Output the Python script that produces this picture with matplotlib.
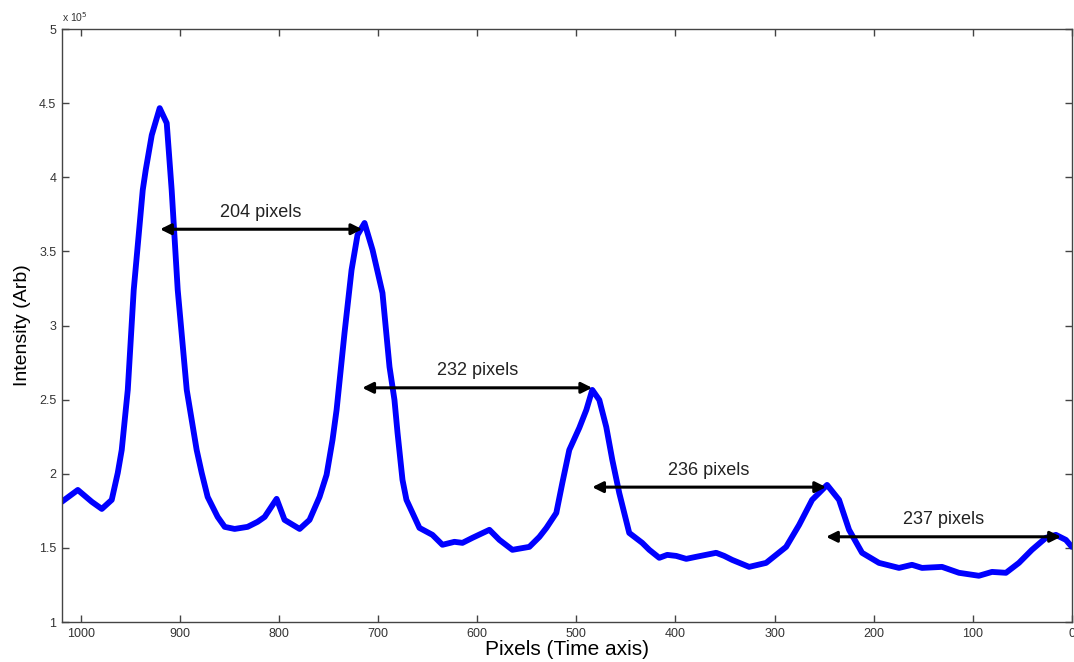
import matplotlib
matplotlib.use('Agg')
import matplotlib.pyplot as plt
from matplotlib.ticker import FuncFormatter, MultipleLocator

plt.rcParams['font.family'] = ['Liberation Sans', 'DejaVu Sans']

# Intensity trace along the time axis (pixel index, intensity in units of 1e5)
pixel = [1019.2, 1003.0, 988.9, 978.8, 968.8, 962.7, 958.7, 952.6, 946.6, 937.5,
         934.5, 928.4, 920.4, 913.3, 908.3, 902.2, 893.1, 883.1, 878.0, 872.0,
         861.9, 854.8, 844.8, 831.7, 821.6, 814.5, 802.4, 794.4, 779.2, 769.2,
         759.1, 752.0, 746.0, 741.9, 733.9, 726.8, 720.8, 713.7, 705.6, 695.6,
         688.5, 683.5, 680.4, 675.4, 671.4, 658.3, 645.2, 635.1, 623.0, 614.9,
         604.8, 587.7, 577.6, 564.5, 547.4, 537.3, 530.2, 520.2, 514.1, 507.1,
         497.0, 489.9, 483.9, 476.8, 469.8, 463.7, 456.7, 446.6, 433.5, 426.4,
         416.3, 408.3, 399.2, 389.1, 379.0, 358.9, 350.8, 342.7, 325.6, 308.5,
         288.3, 275.2, 262.1, 255.0, 247.0, 234.9, 224.8, 211.7, 194.6, 174.4,
         161.3, 151.2, 131.0, 113.9, 93.8, 80.6, 66.5, 53.4, 40.3, 26.2,
         16.1, 6.0, 0.0]
intensity = [1.811, 1.891, 1.811, 1.763, 1.824, 2.006, 2.161, 2.566, 3.240, 3.914,
             4.049, 4.285, 4.467, 4.366, 3.914, 3.240, 2.566, 2.161, 2.006, 1.844,
             1.709, 1.642, 1.628, 1.642, 1.676, 1.709, 1.831, 1.689, 1.628, 1.689,
             1.844, 1.993, 2.229, 2.431, 2.950, 3.375, 3.611, 3.692, 3.510, 3.220,
             2.721, 2.498, 2.276, 1.959, 1.824, 1.635, 1.588, 1.521, 1.541, 1.534,
             1.568, 1.622, 1.554, 1.487, 1.507, 1.574, 1.635, 1.736, 1.939, 2.161,
             2.310, 2.431, 2.566, 2.498, 2.316, 2.094, 1.871, 1.601, 1.534, 1.487,
             1.433, 1.453, 1.446, 1.426, 1.440, 1.467, 1.446, 1.419, 1.372, 1.399,
             1.507, 1.655, 1.824, 1.871, 1.925, 1.824, 1.622, 1.467, 1.399, 1.365,
             1.386, 1.365, 1.372, 1.332, 1.312, 1.338, 1.332, 1.399, 1.487, 1.568,
             1.588, 1.554, 1.507]

# peak positions and the height at which each spacing arrow is drawn
peak_pos = [920, 716, 484, 248, 11]
arrow_y = [3.65, 2.58, 1.91, 1.575]

fig = plt.figure(figsize=(10.74, 6.62), dpi=100)
ax = fig.add_axes([0.0577, 0.0604, 0.9403, 0.8956])

ax.plot(pixel, intensity, color='#0000ff', lw=4.2,
        solid_joinstyle='round', solid_capstyle='round')

for i, y in enumerate(arrow_y):
    left, right = peak_pos[i], peak_pos[i + 1]
    ax.annotate('', xy=(right, y), xytext=(left, y),
                arrowprops=dict(arrowstyle='<|-|>', color='black', lw=2.2,
                                mutation_scale=16, shrinkA=0, shrinkB=0))
    ax.text((left + right) / 2, y + 0.115, f'{left - right} pixels',
            ha='center', va='center', fontsize=13, color='#222222')

ax.set_xlim(1019, 0)
ax.set_ylim(1, 5)
ax.xaxis.set_major_locator(MultipleLocator(100))
ax.yaxis.set_major_locator(MultipleLocator(0.5))
ax.yaxis.set_major_formatter(FuncFormatter(lambda v, p: f'{v:g}'))

ax.tick_params(direction='in', length=5, width=1, top=True, right=True,
               labelsize=9, labelcolor='#333333', color='#444444', pad=4)
for s in ax.spines.values():
    s.set_color('#444444')
    s.set_linewidth(1)

ax.text(0.0, 1.008, r'x 10$^5$', transform=ax.transAxes, fontsize=7.5,
        color='#333333', ha='left', va='bottom')

ax.set_xlabel('Pixels (Time axis)', fontsize=15, labelpad=0)
ax.set_ylabel('Intensity (Arb)', fontsize=14, labelpad=6)

fig.savefig('out.png', dpi=100)
